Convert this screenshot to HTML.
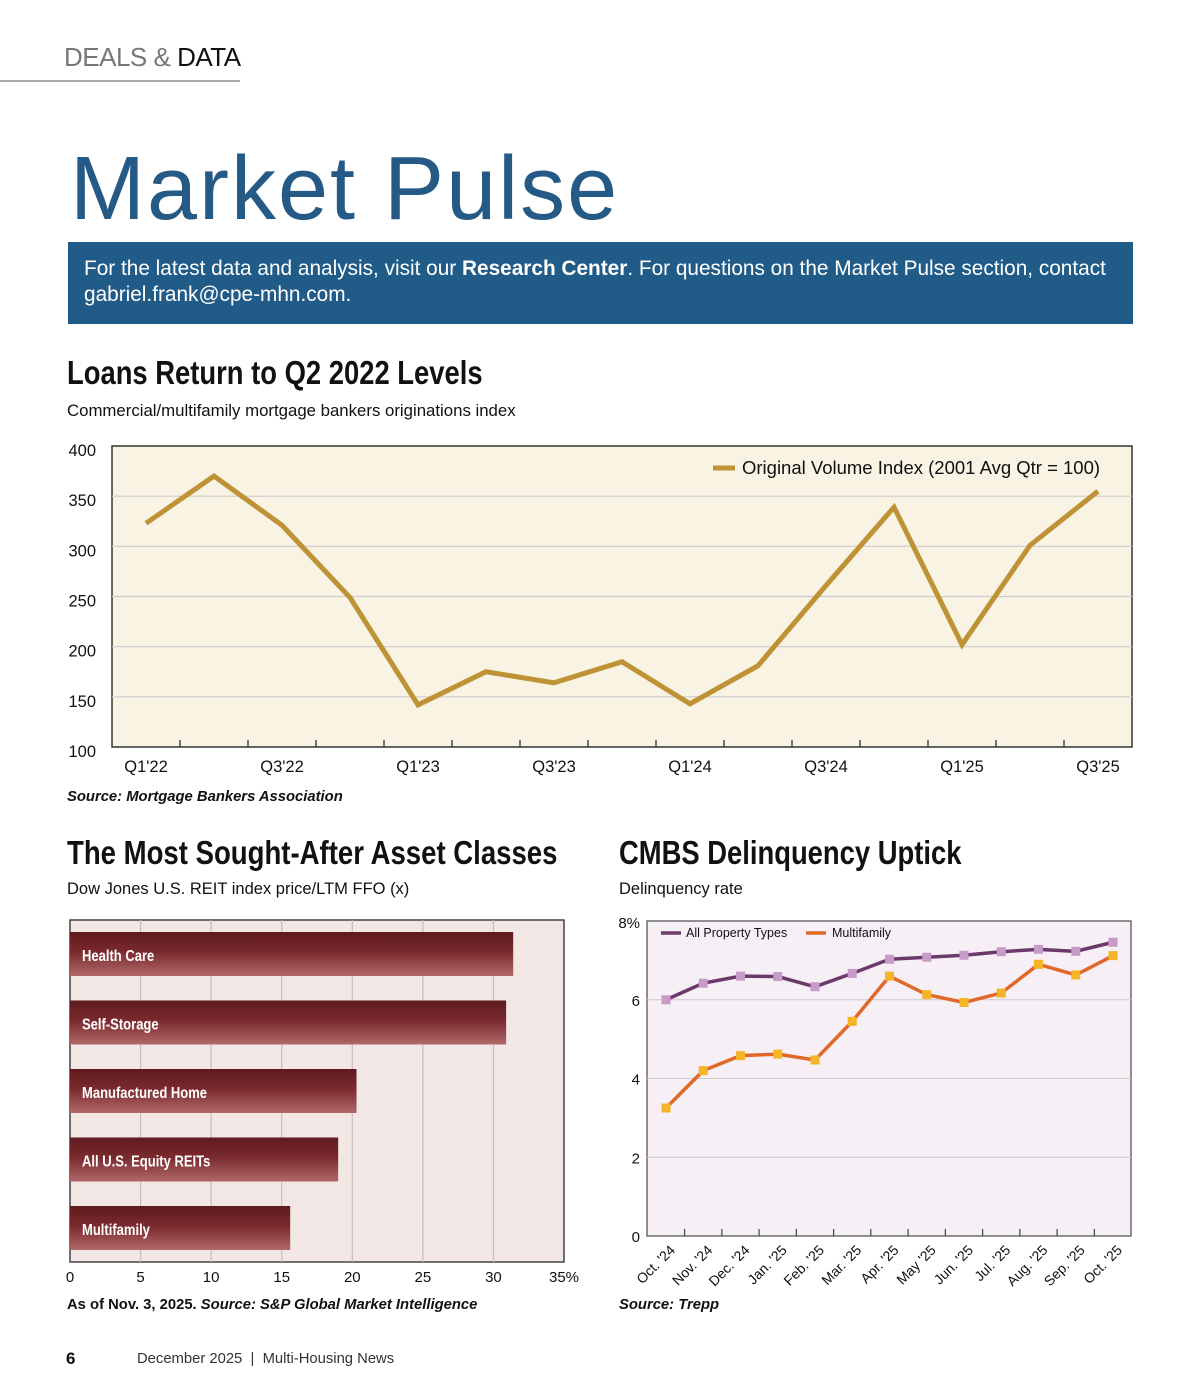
<!DOCTYPE html>
<html><head><meta charset="utf-8"><style>
body{margin:0;background:#fff;width:1200px;height:1400px;overflow:hidden;position:relative;font-family:"Liberation Sans",sans-serif;}
.abs{position:absolute;}
.cond{font-family:"Liberation Sans Narrow","Liberation Sans",sans-serif;font-weight:bold;}
svg text{font-family:"Liberation Sans",sans-serif;}
</style></head><body>
<div class="abs" style="left:64px;top:42px;font-size:26px;color:#777;letter-spacing:-0.5px">DEALS &amp; <span style="color:#111">DATA</span></div>
<div class="abs" style="left:0;top:80px;width:240px;height:2px;background:#aaa"></div>
<div class="abs" style="left:70px;top:138px;font-size:90px;color:#245a85;letter-spacing:2px">Market Pulse</div>
<div class="abs" style="left:68px;top:242px;width:1065px;height:82px;background:#215b87;color:#fff;font-size:20.8px;line-height:26px;padding:14px 0 0 16px;box-sizing:border-box">For the latest data and analysis, visit our <b>Research Center</b>. For questions on the Market Pulse section, contact gabriel.frank@cpe-mhn.com.</div>
<div class="abs cond" style="left:67px;top:354px;font-size:33px;color:#111;transform:scaleX(0.83);transform-origin:left">Loans Return to Q2 2022 Levels</div>
<div class="abs" style="left:67px;top:401px;font-size:16.8px;color:#111">Commercial/multifamily mortgage bankers originations index</div>
<div class="abs" style="left:67px;top:789px;font-size:14.8px;font-weight:bold;font-style:italic;color:#111">Source: Mortgage Bankers Association</div>
<div class="abs cond" style="left:67px;top:834px;font-size:33px;color:#111;transform:scaleX(0.835);transform-origin:left">The Most Sought-After Asset Classes</div>
<div class="abs" style="left:67px;top:880px;font-size:16.5px;color:#111">Dow Jones U.S. REIT index price/LTM FFO (x)</div>
<div class="abs cond" style="left:619px;top:834px;font-size:33px;color:#111;transform:scaleX(0.83);transform-origin:left">CMBS Delinquency Uptick</div>
<div class="abs" style="left:619px;top:880px;font-size:16.5px;color:#111">Delinquency rate</div>
<div class="abs" style="left:67px;top:1297px;font-size:14.8px;font-weight:bold;color:#111">As of Nov. 3, 2025. <i>Source: S&amp;P Global Market Intelligence</i></div>
<div class="abs" style="left:619px;top:1297px;font-size:14.8px;font-weight:bold;font-style:italic;color:#111">Source: Trepp</div>
<div class="abs" style="left:66px;top:1349px;font-size:17px;font-weight:bold;color:#111">6</div>
<div class="abs" style="left:137px;top:1351px;font-size:14.8px;color:#333">December 2025 &nbsp;|&nbsp; Multi-Housing News</div>

<svg id="s" class="abs" style="left:0;top:0" width="1200" height="1400">
<defs>
<linearGradient id="bg" x1="0" y1="0" x2="0" y2="1"><stop offset="0" stop-color="#5e1a1e"/><stop offset="0.45" stop-color="#7a2a2e"/><stop offset="1" stop-color="#b06868"/></linearGradient>
</defs>
</svg>
<script>
// ---- Loans chart data
const loanCats=["Q1'22","Q2'22","Q3'22","Q4'22","Q1'23","Q2'23","Q3'23","Q4'23","Q1'24","Q2'24","Q3'24","Q4'24","Q1'25","Q2'25","Q3'25"];
const loanVals=[323,370,321,249,142,175,164,185,143,181,261,339,202,301,355];
const loanTicks=[100,150,200,250,300,350,400];
// ---- REIT chart data
const reitCats=["Health Care","Self-Storage","Manufactured Home","All U.S. Equity REITs","Multifamily"];
const reitVals=[31.4,30.9,20.3,19.0,15.6];
const reitTicks=[0,5,10,15,20,25,30,35];
// ---- CMBS chart data
const cmbsCats=["Oct. '24","Nov. '24","Dec. '24","Jan. '25","Feb. '25","Mar. '25","Apr. '25","May '25","Jun. '25","Jul. '25","Aug. '25","Sep. '25","Oct. '25"];
const cmbsAll=[6.0,6.42,6.6,6.59,6.33,6.67,7.03,7.08,7.13,7.22,7.28,7.23,7.46];
const cmbsMf=[3.25,4.2,4.58,4.62,4.47,5.45,6.6,6.13,5.93,6.17,6.9,6.63,7.12];
const cmbsTicks=[0,2,4,6,8];

const S=document.getElementById('s');const NS='http://www.w3.org/2000/svg';
function mk(t,a,txt){const e=document.createElementNS(NS,t);for(const k in a)e.setAttribute(k,a[k]);if(txt!==undefined)e.textContent=txt;S.appendChild(e);return e;}

// Loans chart
{const L=112,R=1132,T=446,B=747;
const y=v=>B-(v-100)/300*(B-T);const x=i=>146+i*68;
let e=mk('rect',{x:L,y:T,width:R-L,height:B-T,fill:'#f8f3e3',stroke:'#333','stroke-width':1.5});

loanTicks.forEach(t=>{if(t>100&&t<400){e=mk('line',{x1:L,x2:R,y1:y(t),y2:y(t),stroke:'#ccc','stroke-width':1.2});}
e=mk('text',{x:96,y:y(t)+10,'text-anchor':'end','font-size':16.5,fill:'#111'},t);});
for(let i=0;i<loanCats.length-1;i++){e=mk('line',{x1:x(i)+34,x2:x(i)+34,y1:B,y2:B-7,stroke:'#333','stroke-width':1.3});}
loanCats.forEach((c,i)=>{if(i%2==0){e=mk('text',{x:x(i),y:772,'text-anchor':'middle','font-size':16.5,fill:'#111'},c);}});
e=mk('polyline',{points:loanVals.map((v,i)=>x(i)+','+y(v)).join(' '),fill:'none',stroke:'#bf9236','stroke-width':5,'stroke-linejoin':'miter'});

e=mk('line',{x1:713,x2:735,y1:468,y2:468,stroke:'#bf9236','stroke-width':5});
e=mk('text',{x:742,y:474,'font-size':18.5,fill:'#111'},'Original Volume Index (2001 Avg Qtr = 100)');}

// REIT chart
{const L=70,R=564,T=920,B=1262;const x=v=>L+v/35*(R-L);
let e=mk('rect',{x:L,y:T,width:R-L,height:B-T,fill:'#f3e7e6',stroke:'#444','stroke-width':1.5});

reitTicks.forEach(t=>{if(t>0&&t<35){e=mk('line',{x1:x(t),x2:x(t),y1:T,y2:B,stroke:'#c8bcbc','stroke-width':1.2});}
e=mk('text',{x:x(t)+(t==35?0:0),y:1282,'text-anchor':'middle','font-size':15,fill:'#111'},t==35?'35%':t);});
reitCats.forEach((c,i)=>{const by=932+i*68.5;
e=mk('rect',{x:L,y:by,width:x(reitVals[i])-L,height:44,fill:'url(#bg)'});
e=mk('text',{x:0,y:0,'font-size':15.5,'font-weight':'bold',fill:'#fff',transform:`translate(82 ${by+29}) scale(0.84 1)`},c);});}

// CMBS chart
{const L=647,R=1131,T=921,B=1236;const y=v=>B-v/8*(B-T);const x=i=>666+i*37.25;
let e=mk('rect',{x:L,y:T,width:R-L,height:B-T,fill:'#f6eff6',stroke:'#555','stroke-width':1.3});

cmbsTicks.forEach(t=>{if(t>0&&t<8){e=mk('line',{x1:L,x2:R,y1:y(t),y2:y(t),stroke:'#ccc','stroke-width':1});}
e=mk('text',{x:640,y:y(t)+(t==8?7:6),'text-anchor':'end','font-size':15,fill:'#111'},t==8?'8%':t);});
for(let i=0;i<cmbsCats.length-1;i++){e=mk('line',{x1:x(i)+18.6,x2:x(i)+18.6,y1:B,y2:B-7,stroke:'#444','stroke-width':1.2});}
cmbsCats.forEach((c,i)=>{e=mk('text',{x:x(i)+10,y:1251,'text-anchor':'end','font-size':14,fill:'#111',transform:`rotate(-45 ${x(i)+10} 1251)`},c);});
[[cmbsAll,'#6b3a6b','#c79ac7','cmbs-all-property'],[cmbsMf,'#e0692a','#f4b526','cmbs-multifamily']].forEach(([arr,lc,mc,nm])=>{
e=mk('polyline',{points:arr.map((v,i)=>x(i)+','+y(v)).join(' '),fill:'none',stroke:lc,'stroke-width':3.5});
arr.forEach((v,i)=>{e=mk('rect',{x:x(i)-4.5,y:y(v)-4.5,width:9,height:9,fill:mc});});});
e=mk('line',{x1:661,x2:681,y1:933,y2:933,stroke:'#6b3a6b','stroke-width':3.5});
e=mk('text',{x:686,y:937,'font-size':12.5,fill:'#111'},'All Property Types');
e=mk('line',{x1:806,x2:826,y1:933,y2:933,stroke:'#e0692a','stroke-width':3.5});
e=mk('text',{x:832,y:937,'font-size':12.5,fill:'#111'},'Multifamily');}
</script>
</body></html>
